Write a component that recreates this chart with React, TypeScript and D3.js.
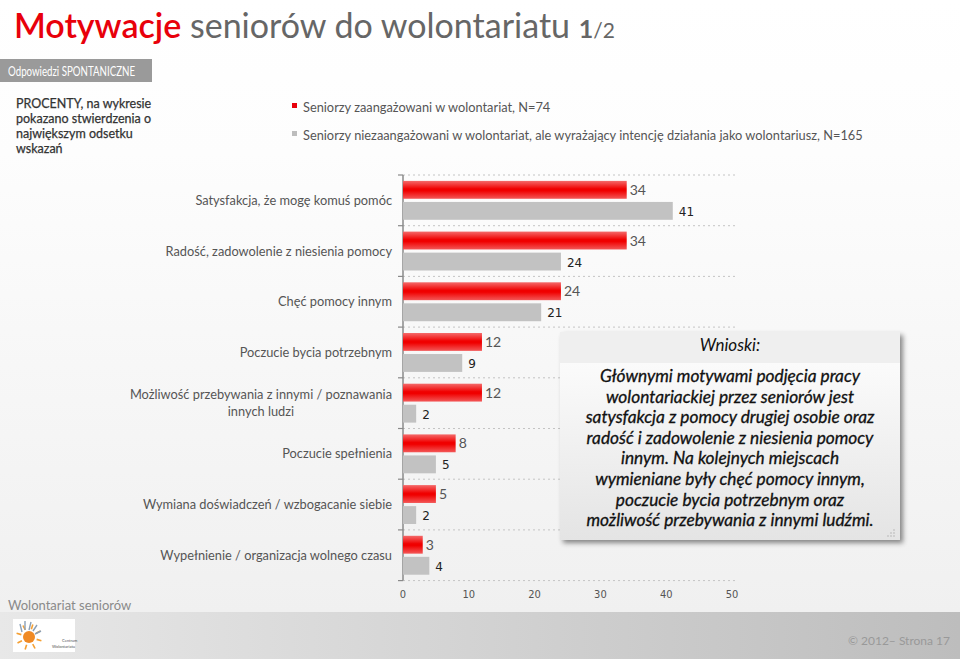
import React, { useEffect, useRef } from 'react'
import * as d3 from 'd3'

// values
const categories = [
  'Satysfakcja, że mogę komuś pomóc',
  'Radość, zadowolenie z niesienia pomocy',
  'Chęć pomocy innym',
  'Poczucie bycia potrzebnym',
  'Możliwość przebywania z innymi / poznawania\ninnych ludzi',
  'Poczucie spełnienia',
  'Wymiana doświadczeń / wzbogacanie siebie',
  'Wypełnienie / organizacja wolnego czasu',
]
const engaged = [34, 34, 24, 12, 12, 8, 5, 3]
const intending = [41, 24, 21, 9, 2, 5, 2, 4]
const xTicks = [0, 10, 20, 30, 40, 50]
const seriesNames = [
  'Seniorzy zaangażowani w wolontariat, N=74',
  'Seniorzy niezaangażowani w wolontariat, ale wyrażający intencję działania jako wolontariusz, N=165',
]
const noteLines = ['PROCENTY, na wykresie', 'pokazano stwierdzenia o', 'największym odsetku', 'wskazań']
const conclusionLines = [
  'Głównymi motywami podjęcia pracy',
  'wolontariackiej przez seniorów jest',
  'satysfakcja z pomocy drugiej osobie oraz',
  'radość i zadowolenie z niesienia pomocy',
  'innym. Na kolejnych miejscach',
  'wymieniane były chęć pomocy innym,',
  'poczucie bycia potrzebnym oraz',
  'możliwość przebywania z innymi ludźmi.',
]

const FONT = 'Lato, "Open Sans", sans-serif'

export default function App() {
  const ref = useRef<SVGSVGElement>(null)

  useEffect(() => {
    const svg = d3.select(ref.current)
    svg.selectAll('*').remove()

    const defs = svg.append('defs')
    const bg = defs.append('linearGradient').attr('id', 'bg').attr('x1', 0).attr('x2', 0).attr('y1', 0).attr('y2', 1)
    bg.append('stop').attr('offset', '0').attr('stop-color', '#ffffff')
    bg.append('stop').attr('offset', '0.25').attr('stop-color', '#fdfdfd')
    bg.append('stop').attr('offset', '1').attr('stop-color', '#f0f0f0')

    const foot = defs.append('linearGradient').attr('id', 'foot')
    foot.append('stop').attr('offset', '0').attr('stop-color', '#e8e8e8')
    foot.append('stop').attr('offset', '1').attr('stop-color', '#bdbdbd')

    const red = defs.append('linearGradient').attr('id', 'redGrad').attr('x1', 0).attr('x2', 0).attr('y1', 0).attr('y2', 1)
    red.append('stop').attr('offset', '0').attr('stop-color', '#f46a6a')
    red.append('stop').attr('offset', '0.45').attr('stop-color', '#f00000')
    red.append('stop').attr('offset', '0.55').attr('stop-color', '#f00000')
    red.append('stop').attr('offset', '1').attr('stop-color', '#f35858')

    const box = defs.append('linearGradient').attr('id', 'boxGrad').attr('x1', 0).attr('x2', 0).attr('y1', 0).attr('y2', 1)
    box.append('stop').attr('offset', '0').attr('stop-color', '#ffffff')
    box.append('stop').attr('offset', '1').attr('stop-color', '#e4e4e4')

    const shadow = defs.append('filter').attr('id', 'shadow').attr('x', '-10%').attr('y', '-10%').attr('width', '130%').attr('height', '130%')
    shadow.append('feDropShadow').attr('dx', 3).attr('dy', 3).attr('stdDeviation', 2.5).attr('flood-color', '#000').attr('flood-opacity', 0.45)

    // background + footer band
    svg.append('rect').attr('width', 960).attr('height', 612).attr('fill', 'url(#bg)')
    svg.append('rect').attr('y', 612).attr('width', 960).attr('height', 47).attr('fill', 'url(#foot)')

    // title
    const title = svg.append('text').attr('x', 14).attr('y', 38).attr('font-family', FONT).attr('font-size', 34)
    title.append('tspan').attr('fill', '#e8000b').attr('font-weight', 600).text('Motywacje')
    title.append('tspan').attr('fill', '#666').text(' seniorów do wolontariatu ')
    title.append('tspan').attr('fill', '#666').attr('font-weight', 700).attr('font-size', 25).text('1')
    title.append('tspan').attr('fill', '#666').attr('font-size', 21).text('/2')

    svg.append('rect').attr('x', 0).attr('y', 59).attr('width', 152).attr('height', 23).attr('fill', '#9a9a9a')
    svg.append('text').attr('x', 8).attr('y', 75.5).attr('font-family', FONT).attr('font-size', 13)
      .attr('textLength', 127).attr('lengthAdjust', 'spacingAndGlyphs').attr('fill', '#fff').text('Odpowiedzi SPONTANICZNE')

    svg.append('g').selectAll('text').data(noteLines).join('text')
      .attr('x', 16).attr('y', (d, i) => 108 + i * 15)
      .attr('font-family', FONT).attr('font-size', 12.5).attr('fill', '#333')
      .attr('stroke', '#333').attr('stroke-width', 0.25)
      .text(d => d)

    // legend
    const legendColors = ['#e8000b', '#bdbdbd']
    const legend = svg.append('g').selectAll('g').data(seriesNames).join('g')
      .attr('transform', (d, i) => `translate(292,${107 + i * 28})`)
    legend.append('rect').attr('y', -4).attr('width', 5).attr('height', 5).attr('fill', (d, i) => legendColors[i])
    legend.append('text').attr('x', 11).attr('y', 4.5).attr('font-family', FONT).attr('font-size', 12.8).attr('fill', '#555').text(d => d)

    // chart
    const x = d3.scaleLinear().domain([0, 50]).range([403, 732])
    const y = d3.scaleBand().domain(categories).range([175, 580.6])
    const sub = d3.scaleBand().domain(['a', 'b']).range([0, y.bandwidth()]).paddingInner(0.15).paddingOuter(0.28)
    const bounds = categories.map(c => y(c) as number).concat([y.range()[1]])

    const chart = svg.append('g')
    chart.selectAll('line.grid').data(bounds).join('line').attr('class', 'grid')
      .attr('x1', x(0)).attr('x2', x(50) + 3).attr('y1', d => d).attr('y2', d => d)
      .attr('stroke', '#c4c4c4').attr('stroke-dasharray', '2,3')
    chart.append('line').attr('x1', x(0)).attr('x2', x(0)).attr('y1', bounds[0]).attr('y2', bounds[bounds.length - 1])
      .attr('stroke', '#8a8a8a').attr('stroke-width', 1.5)
    chart.selectAll('line.tick').data(bounds).join('line').attr('class', 'tick')
      .attr('x1', x(0) - 5).attr('x2', x(0)).attr('y1', d => d).attr('y2', d => d)
      .attr('stroke', '#8a8a8a').attr('stroke-width', 1.2)

    const groups = chart.selectAll('g.cat').data(categories).join('g').attr('class', 'cat')
      .attr('transform', d => `translate(0,${y(d)})`)

    groups.append('rect')
      .attr('x', x(0)).attr('y', sub('a') as number)
      .attr('width', (d, i) => x(engaged[i]) - x(0)).attr('height', sub.bandwidth())
      .attr('fill', 'url(#redGrad)')
    groups.append('rect')
      .attr('x', x(0)).attr('y', sub('b') as number)
      .attr('width', (d, i) => x(intending[i]) - x(0)).attr('height', sub.bandwidth())
      .attr('fill', '#c2c2c2')

    groups.append('text')
      .attr('x', (d, i) => x(engaged[i]) + 3).attr('y', (sub('a') as number) + sub.bandwidth() / 2 + 5)
      .attr('font-family', FONT).attr('font-size', 14).attr('fill', '#555')
      .text((d, i) => engaged[i])
    groups.append('text')
      .attr('x', (d, i) => x(intending[i]) + 6).attr('y', (sub('b') as number) + sub.bandwidth() / 2 + 5)
      .attr('font-family', '"DejaVu Sans", sans-serif').attr('font-size', 12).attr('fill', '#222')
      .text((d, i) => intending[i])

    // category labels, multi-line ones centred under their first line
    groups.each(function (d) {
      const lines = d.split('\n')
      const g = d3.select(this)
      const cy = y.bandwidth() / 2 + 4.5 - (lines.length - 1) * 8.5
      const first = g.append('text').attr('x', 392).attr('y', cy).attr('text-anchor', 'end')
        .attr('font-family', FONT).attr('font-size', 12.8).attr('fill', '#555').text(lines[0])
      if (lines.length > 1) {
        const w = (first.node() as SVGTextElement).getComputedTextLength()
        lines.slice(1).forEach((l, k) => {
          g.append('text').attr('x', 392 - w / 2).attr('y', cy + (k + 1) * 17).attr('text-anchor', 'middle')
            .attr('font-family', FONT).attr('font-size', 12.8).attr('fill', '#555').text(l)
        })
      }
    })

    chart.selectAll('text.xt').data(xTicks).join('text').attr('class', 'xt')
      .attr('x', d => x(d)).attr('y', 598).attr('text-anchor', 'middle')
      .attr('font-family', '"DejaVu Sans Condensed", "DejaVu Sans", sans-serif').attr('font-size', 11).attr('fill', '#555')
      .text(d => d)

    // conclusions box
    const bx = 560, by = 332, bw = 340, bh = 208
    svg.append('rect').attr('x', bx).attr('y', by).attr('width', bw).attr('height', bh).attr('fill', 'url(#boxGrad)').attr('filter', 'url(#shadow)')
    svg.append('rect').attr('x', bx).attr('y', by).attr('width', bw).attr('height', 31).attr('fill', '#efefef')
    svg.append('text').attr('x', bx + bw / 2).attr('y', by + 19).attr('text-anchor', 'middle')
      .attr('font-family', FONT).attr('font-style', 'italic').attr('font-size', 17).attr('fill', '#111').text('Wnioski:')
    svg.append('g').selectAll('text').data(conclusionLines).join('text')
      .attr('x', bx + bw / 2).attr('y', (d, i) => 382 + i * 20.6).attr('text-anchor', 'middle')
      .attr('font-family', FONT).attr('font-style', 'italic').attr('font-size', 17.3).attr('fill', '#111')
      .attr('stroke', '#111').attr('stroke-width', 0.3)
      .text(d => d)
    svg.append('g').selectAll('circle').data([[894, 530], [891, 533], [894, 533], [888, 536], [891, 536], [894, 536]]).join('circle')
      .attr('cx', d => d[0]).attr('cy', d => d[1]).attr('r', 0.7).attr('fill', '#aaa')

    // footer
    svg.append('text').attr('x', 8).attr('y', 610).attr('font-family', FONT).attr('font-size', 13).attr('fill', '#8a8a8a').text('Wolontariat seniorów')
    svg.append('text').attr('x', 950).attr('y', 645).attr('text-anchor', 'end').attr('font-family', FONT).attr('font-size', 12).attr('fill', '#999').text('© 2012– Strona 17')

    const logo = svg.append('g')
    logo.append('rect').attr('x', 13).attr('y', 619).attr('width', 62).attr('height', 33).attr('fill', '#fff')
    const rays = d3.range(8).map(k => (k / 8) * Math.PI * 2 + 0.3)
    logo.selectAll('line').data(rays).join('line')
      .attr('x1', a => 29 + Math.cos(a) * 8).attr('y1', a => 637 + Math.sin(a) * 8)
      .attr('x2', a => 29 + Math.cos(a) * 13).attr('y2', a => 637 + Math.sin(a) * 13)
      .attr('stroke', '#f5a033').attr('stroke-width', 1.6)
    logo.append('circle').attr('cx', 29).attr('cy', 637).attr('r', 6).attr('fill', '#f08a24')
    logo.append('path').attr('d', 'M22,632 L20,624 M25,630 L25,621 M29,630 L31,622 M33,631 L37,625 M35,634 L41,631')
      .attr('stroke', '#8aa0b8').attr('stroke-width', 1.4).attr('fill', 'none')
    logo.append('text').attr('x', 62).attr('y', 642).attr('font-family', FONT).attr('font-size', 4).attr('fill', '#555').text('Centrum')
    logo.append('text').attr('x', 52).attr('y', 648).attr('font-family', FONT).attr('font-size', 4).attr('fill', '#555').text('Wolontariatu')
  }, [])

  return <svg ref={ref} width={960} height={659} style={{ position: 'absolute', left: 0, top: 0, display: 'block' }} />
}
